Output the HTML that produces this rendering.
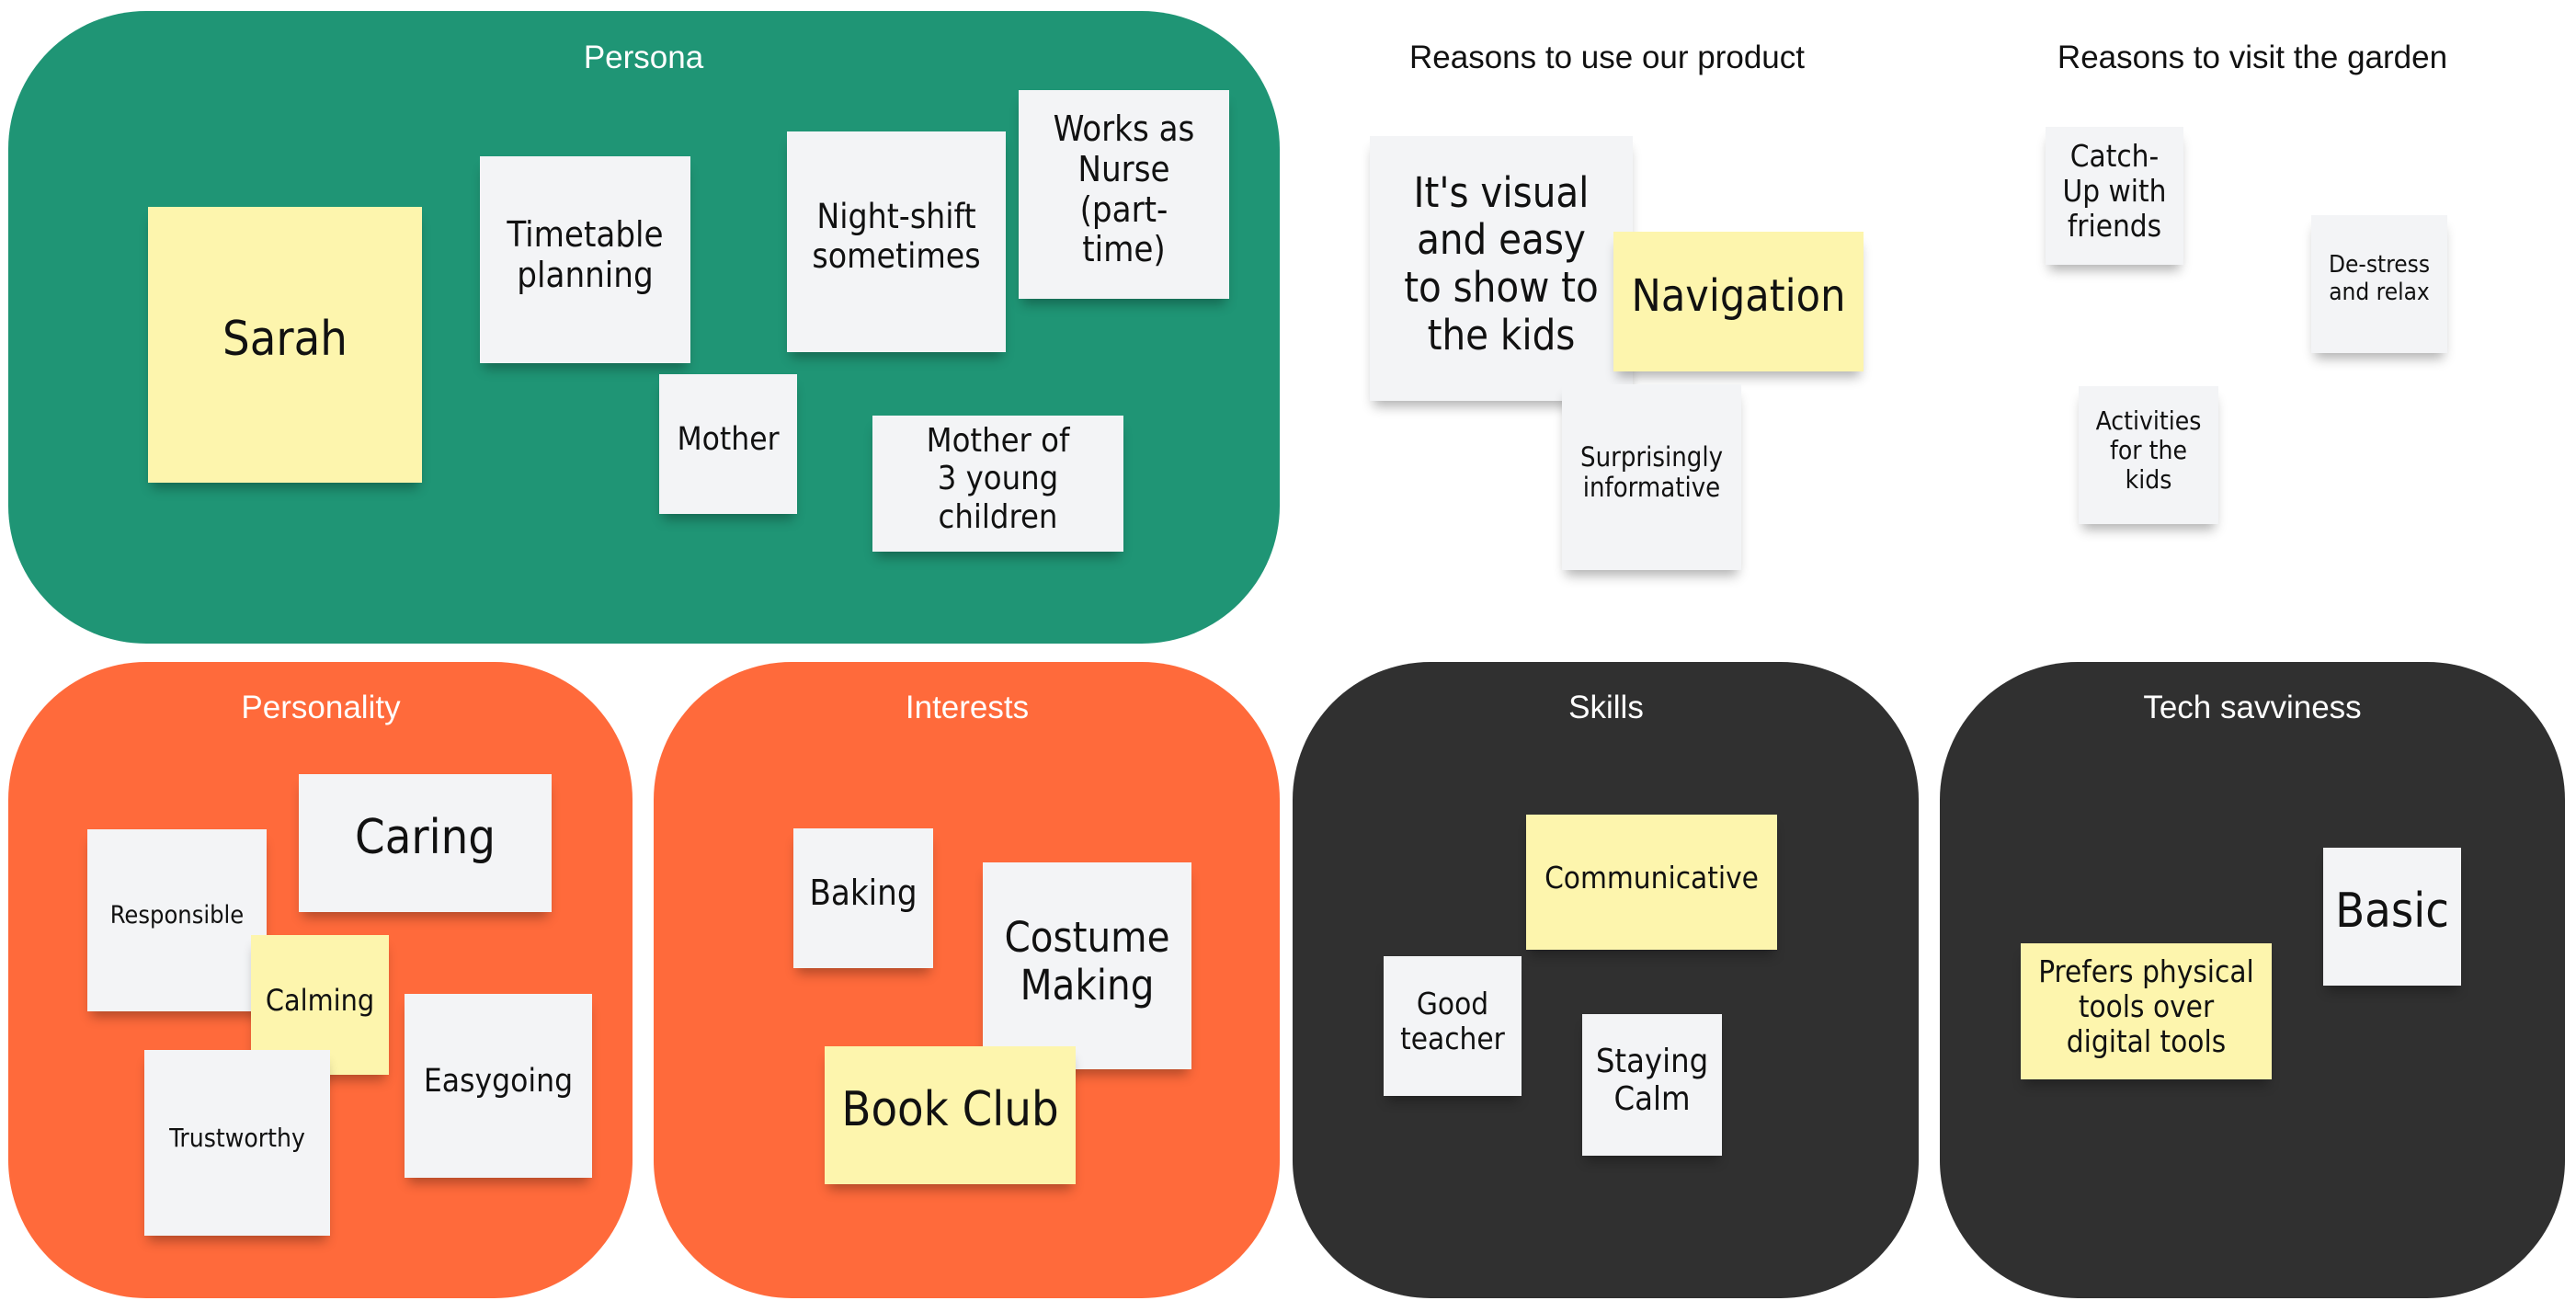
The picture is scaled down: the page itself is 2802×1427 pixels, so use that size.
<!DOCTYPE html>
<html><head><meta charset="utf-8"><style>
body{margin:0;width:2802px;height:1427px;background:#fff;position:relative;overflow:hidden;font-family:"Liberation Sans",sans-serif}
.f{position:absolute;border-radius:150px}
.t{position:absolute;font-size:35px;text-align:center;transform:translateX(-50%);white-space:nowrap}
.n{position:absolute;box-sizing:border-box;padding-bottom:10px;background:#f3f4f6;display:flex;align-items:center;justify-content:center;text-align:center;color:#111;line-height:1.15;box-shadow:0 10px 12px -4px rgba(0,0,0,.3);font-family:"DejaVu Sans Condensed","DejaVu Sans","Liberation Sans",sans-serif}
.y{background:#fdf5ad}
</style></head><body>
<div class="f" style="left:9px;top:12px;width:1383px;height:688px;background:#1f9575"></div>
<div class="f" style="left:9px;top:720px;width:679px;height:692px;background:#ff6a3b"></div>
<div class="f" style="left:711px;top:720px;width:681px;height:692px;background:#ff6a3b"></div>
<div class="f" style="left:1406px;top:720px;width:681px;height:692px;background:#303030"></div>
<div class="f" style="left:2110px;top:720px;width:680px;height:692px;background:#303030"></div>

<div class="t" style="left:700px;top:43px;color:#fff">Persona</div>
<div class="t" style="left:1748px;top:43px;color:#111">Reasons to use our product</div>
<div class="t" style="left:2450px;top:43px;color:#111">Reasons to visit the garden</div>
<div class="t" style="left:349px;top:750px;color:#fff">Personality</div>
<div class="t" style="left:1052px;top:750px;color:#fff">Interests</div>
<div class="t" style="left:1747px;top:750px;color:#fff">Skills</div>
<div class="t" style="left:2450px;top:750px;color:#fff">Tech savviness</div>

<div class="n y" style="left:161px;top:225px;width:298px;height:300px;font-size:52px">Sarah</div>
<div class="n" style="left:522px;top:170px;width:229px;height:225px;font-size:38px">Timetable<br>planning</div>
<div class="n" style="left:856px;top:143px;width:238px;height:240px;font-size:37px">Night-shift<br>sometimes</div>
<div class="n" style="left:1108px;top:98px;width:229px;height:227px;font-size:38px">Works as<br>Nurse<br>(part-<br>time)</div>
<div class="n" style="left:717px;top:407px;width:150px;height:152px;font-size:35px">Mother</div>
<div class="n" style="left:949px;top:452px;width:273px;height:148px;font-size:36px">Mother of<br>3 young<br>children</div>

<div class="n" style="left:1490px;top:148px;width:286px;height:288px;font-size:45px">It's visual<br>and easy<br>to show to<br>the kids</div>
<div class="n y" style="left:1755px;top:252px;width:272px;height:152px;font-size:48px">Navigation</div>
<div class="n" style="left:1699px;top:418px;width:195px;height:202px;font-size:29px">Surprisingly<br>informative</div>
<div class="n" style="left:2225px;top:138px;width:150px;height:150px;font-size:33px">Catch-<br>Up with<br>friends</div>
<div class="n" style="left:2514px;top:234px;width:148px;height:150px;font-size:26px">De-stress<br>and relax</div>
<div class="n" style="left:2261px;top:420px;width:152px;height:150px;font-size:28px">Activities<br>for the<br>kids</div>

<div class="n" style="left:95px;top:902px;width:195px;height:198px;font-size:27px">Responsible</div>
<div class="n" style="left:325px;top:842px;width:275px;height:150px;font-size:52px">Caring</div>
<div class="n y" style="left:273px;top:1017px;width:150px;height:152px;font-size:32px">Calming</div>
<div class="n" style="left:440px;top:1081px;width:204px;height:200px;font-size:35px">Easygoing</div>
<div class="n" style="left:157px;top:1142px;width:202px;height:202px;font-size:28px">Trustworthy</div>

<div class="n" style="left:863px;top:901px;width:152px;height:152px;font-size:38px">Baking</div>
<div class="n" style="left:1069px;top:938px;width:227px;height:225px;font-size:45px">Costume<br>Making</div>
<div class="n y" style="left:897px;top:1138px;width:273px;height:150px;font-size:52px">Book Club</div>

<div class="n y" style="left:1660px;top:886px;width:273px;height:147px;font-size:33px">Communicative</div>
<div class="n" style="left:1505px;top:1040px;width:150px;height:152px;font-size:33px">Good<br>teacher</div>
<div class="n" style="left:1721px;top:1103px;width:152px;height:154px;font-size:36px">Staying<br>Calm</div>

<div class="n" style="left:2527px;top:922px;width:150px;height:150px;font-size:52px">Basic</div>
<div class="n y" style="left:2198px;top:1026px;width:273px;height:148px;font-size:33px">Prefers physical<br>tools over<br>digital tools</div>
</body></html>
